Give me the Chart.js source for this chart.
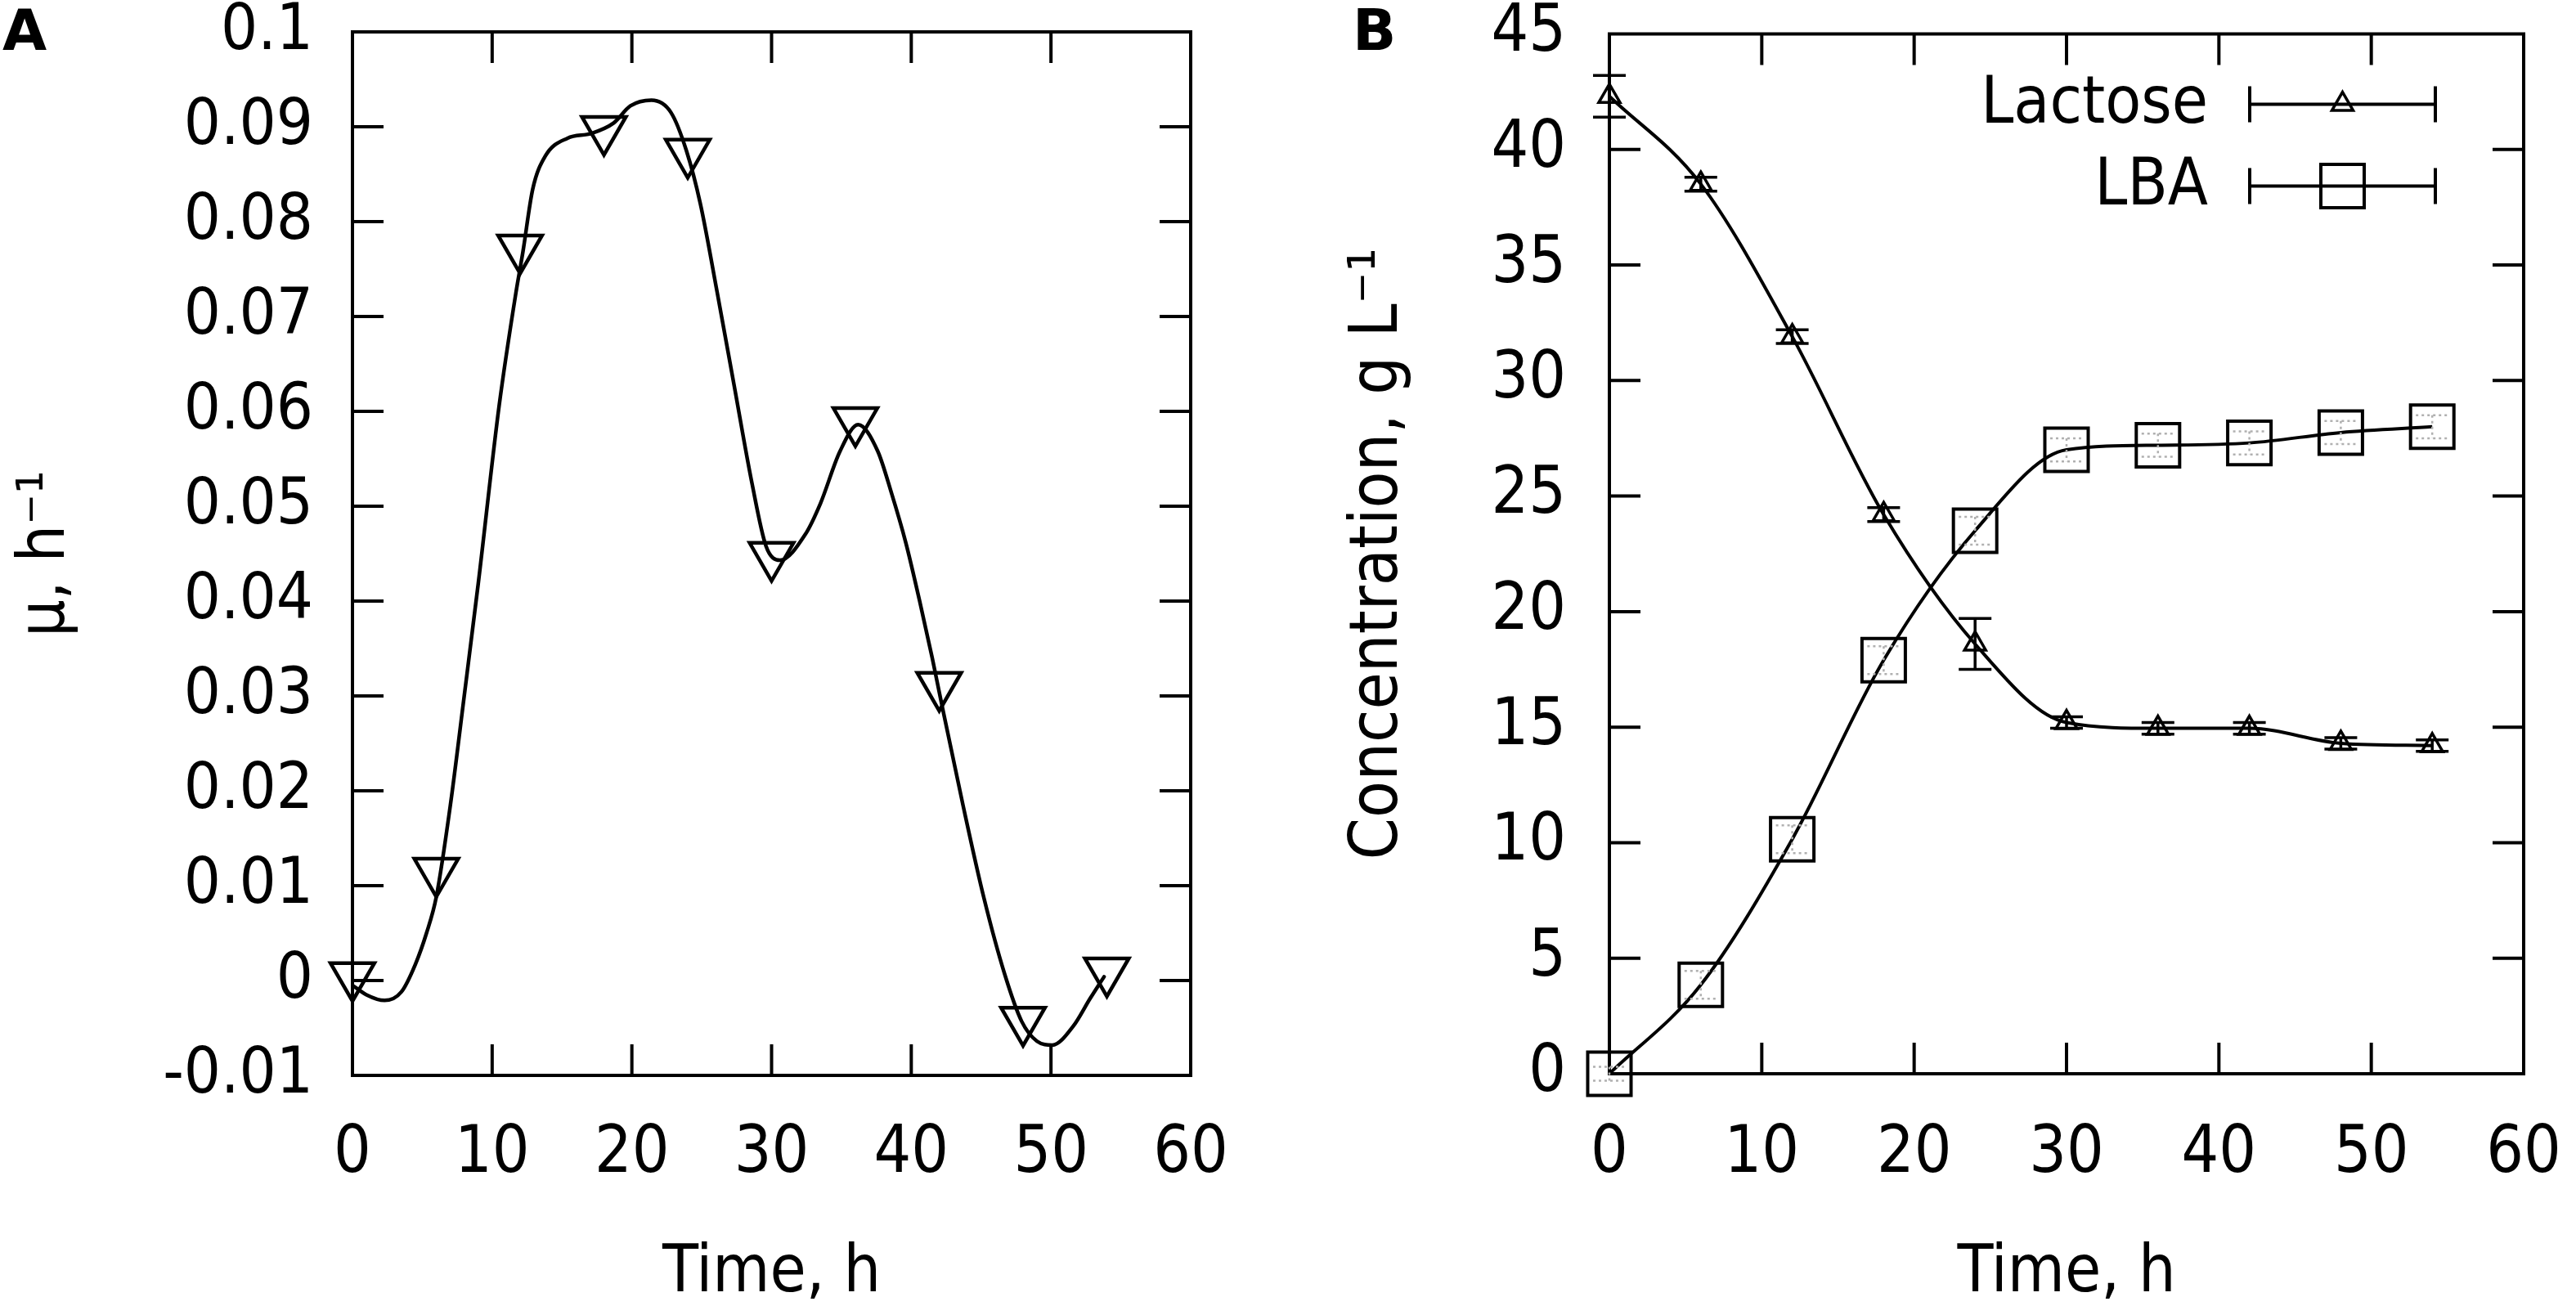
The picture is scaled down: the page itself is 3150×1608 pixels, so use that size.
<!DOCTYPE html>
<html><head><meta charset="utf-8">
<script src="https://cdn.jsdelivr.net/npm/chart.js@4.4.1/dist/chart.umd.min.js"></script>
<style>
html,body{margin:0;padding:0;background:#fff;width:3150px;height:1608px;overflow:hidden;}
.panel{position:absolute;top:0;width:1575px;height:1608px;}
.panel canvas{display:block;}
.letter{position:absolute;top:2px;font-family:"DejaVu Sans",sans-serif;font-weight:bold;font-size:70px;line-height:1;color:#000;}
</style></head><body>
<div class="panel" style="left:0"><canvas id="cA" width="1575" height="1608" style="width:1575px;height:1608px"></canvas></div>
<div class="panel" style="left:1575px"><canvas id="cB" width="1575" height="1608" style="width:1575px;height:1608px"></canvas></div>
<div class="letter" style="left:3px">A</div>
<div class="letter" style="left:1654px">B</div>
<script>
// ---------- Panel A: specific growth rate ----------
const timeA = [0, 6, 12, 18, 24, 30, 36, 42, 48, 54];
const muA   = [0.0005, 0.0115, 0.0772, 0.0897, 0.0873, 0.0448, 0.0590, 0.0311, -0.0042, 0.0010];
// smoothed curve
const fitTimeA = [0, 1, 2.3, 3.5, 4.5, 5.3, 6, 7, 8, 9, 10.5, 11.7, 12.2, 12.9, 13.8, 15.4, 17.1, 18.7, 19.9, 21.4, 22.8, 23.9, 24.9, 26.1, 27.3, 28.6, 29.6, 30.6, 32.4, 33.5, 34.9, 36.2, 37.6, 38.6, 39.6, 40.6, 41.5, 42.1, 43.7, 45.2, 46.7, 47.9, 49, 50.1, 51.6, 52.8, 53.8];
const fitMuA   = [-0.0005, -0.0015, -0.0021, -0.0012, 0.0017, 0.005, 0.0088, 0.0184, 0.030, 0.0418, 0.0606, 0.0725, 0.0768, 0.0834, 0.0869, 0.0888, 0.0893, 0.0904, 0.0922, 0.0928, 0.0915, 0.0875, 0.0819, 0.0726, 0.0629, 0.0524, 0.0458, 0.0443, 0.0470, 0.0503, 0.0558, 0.0586, 0.0558, 0.0513, 0.0462, 0.0400, 0.0340, 0.0297, 0.0185, 0.0087, 0.0006, -0.0043, -0.0064, -0.0068, -0.0048, -0.0019, 0.0004];

// ---------- Panel B: concentrations ----------
const seriesNamesB = ['Lactose', 'LBA'];
const timeB      = [0, 6, 12, 18, 24, 30, 36, 42, 48, 54];
const lactose    = [42.3, 38.5, 31.9, 24.2, 18.6, 15.2, 14.95, 14.95, 14.3, 14.2];
const lactoseErr = [0.9, 0.3, 0.3, 0.3, 1.1, 0.25, 0.25, 0.25, 0.25, 0.25];
const lba        = [0.0, 3.85, 10.15, 17.9, 23.5, 27.0, 27.2, 27.3, 27.75, 28.0];
const lbaErr     = [0.3, 0.6, 0.6, 0.6, 0.6, 0.5, 0.5, 0.5, 0.5, 0.5];

// ---------- ticks ----------
const xTicks       = [0, 10, 20, 30, 40, 50, 60];
const xTickLabels  = ['0', '10', '20', '30', '40', '50', '60'];
const yTicksA      = [-0.01, 0, 0.01, 0.02, 0.03, 0.04, 0.05, 0.06, 0.07, 0.08, 0.09, 0.1];
const yTickLabelsA = ['-0.01', '0', '0.01', '0.02', '0.03', '0.04', '0.05', '0.06', '0.07', '0.08', '0.09', '0.1'];
const yTicksB      = [0, 5, 10, 15, 20, 25, 30, 35, 40, 45];
const yTickLabelsB = ['0', '5', '10', '15', '20', '25', '30', '35', '40', '45'];

const FAMILY = '"DejaVu Sans Condensed", "DejaVu Sans", sans-serif';
const INK = '#000';

const toXY = (xs, ys) => xs.map((x, i) => ({x: x, y: ys[i]}));
const noPad = s => { s.paddingTop = 0; s.paddingBottom = 0; s.paddingLeft = 0; s.paddingRight = 0; };

// frame + inward ticks on all four sides
const framePlugin = {
  id: 'frameTicks',
  beforeDatasetsDraw(chart) {
    const {ctx, chartArea: a, scales} = chart;
    const L = 38;
    ctx.save();
    ctx.strokeStyle = INK;
    ctx.lineWidth = 4;
    ctx.lineCap = 'butt';
    ctx.beginPath();
    scales.x.ticks.forEach(t => {
      if (t.value <= scales.x.min || t.value >= scales.x.max) return;
      const px = scales.x.getPixelForValue(t.value);
      ctx.moveTo(px, a.bottom); ctx.lineTo(px, a.bottom - L);
      ctx.moveTo(px, a.top); ctx.lineTo(px, a.top + L);
    });
    scales.y.ticks.forEach(t => {
      if (t.value <= scales.y.min || t.value >= scales.y.max) return;
      const py = scales.y.getPixelForValue(t.value);
      ctx.moveTo(a.left, py); ctx.lineTo(a.left + L, py);
      ctx.moveTo(a.right, py); ctx.lineTo(a.right - L, py);
    });
    ctx.stroke();
    ctx.lineJoin = 'miter';
    ctx.strokeRect(a.left, a.top, a.right - a.left, a.bottom - a.top);
    ctx.restore();
  }
};

function xScale(height, pad) {
  return {
    type: 'linear', min: 0, max: 60,
    afterBuildTicks: s => { s.ticks = xTicks.map(v => ({value: v})); },
    ticks: {
      callback: (v, i) => xTickLabels[i],
      color: INK, padding: pad, maxRotation: 0, autoSkip: false,
      font: {family: FAMILY, size: 80, lineHeight: 0.9}
    },
    grid: {display: false, drawTicks: false},
    border: {display: false},
    title: {display: true, text: 'Time, h', color: INK,
            font: {family: FAMILY, size: 80, lineHeight: 1.2},
            padding: {top: 0, bottom: 2}},
    afterFit: s => { s.height = height; noPad(s); }
  };
}

// ---------- Chart A ----------
new Chart(document.getElementById('cA'), {
  type: 'scatter',
  data: {
    datasets: [
      {
        label: 'μ',
        data: toXY(timeA, muA),
        pointStyle: 'triangle', rotation: 180, pointRadius: 31,
        pointBorderWidth: 4.5, pointBorderColor: INK,
        pointBackgroundColor: 'rgba(0,0,0,0)', borderColor: INK,
        showLine: false, clip: false
      },
      {
        label: 'fit',
        data: toXY(fitTimeA, fitMuA),
        showLine: true, pointRadius: 0, borderColor: INK, borderWidth: 4.5,
        cubicInterpolationMode: 'monotone', borderJoinStyle: 'round', borderCapStyle: 'round'
      }
    ]
  },
  options: {
    responsive: false, animation: false, devicePixelRatio: 1,
    layout: {padding: {left: 0, top: 39, right: 119, bottom: 0}},
    plugins: {legend: {display: false}, tooltip: {enabled: false}},
    scales: {
      x: xScale(293, 61),
      y: {
        type: 'linear', min: -0.01, max: 0.1,
        afterBuildTicks: s => { s.ticks = yTicksA.map(v => ({value: v})); },
        ticks: {
          callback: (v, i) => yTickLabelsA[i],
          color: INK, padding: 48, autoSkip: false,
          font: {family: FAMILY, size: 79, lineHeight: 0.9}
        },
        grid: {display: false, drawTicks: false},
        border: {display: false},
        title: {display: true, text: 'μ, h⁻¹', color: INK,
                font: {family: FAMILY, size: 80, lineHeight: 1.2},
                padding: {top: 9, bottom: 0}},
        afterFit: s => { s.width = 431; noPad(s); }
      }
    }
  },
  plugins: [framePlugin]
});

// ---------- Chart B ----------
const errorBarPlugin = {
  id: 'errorBars',
  afterDatasetsDraw(chart) {
    const {ctx, scales} = chart;
    const sets = [
      {ys: lactose, es: lactoseErr, color: INK, lw: 3.5, dash: []},
      {ys: lba, es: lbaErr, color: '#b0b0b0', lw: 2.5, dash: [3, 4]}
    ];
    ctx.save();
    sets.forEach(s => {
      ctx.strokeStyle = s.color; ctx.lineWidth = s.lw; ctx.setLineDash(s.dash);
      ctx.beginPath();
      timeB.forEach((t, i) => {
        const px = scales.x.getPixelForValue(t);
        const y1 = scales.y.getPixelForValue(s.ys[i] + s.es[i]);
        const y2 = scales.y.getPixelForValue(s.ys[i] - s.es[i]);
        const hw = 20;
        ctx.moveTo(px, y1); ctx.lineTo(px, y2);
        ctx.moveTo(px - hw, y1); ctx.lineTo(px + hw, y1);
        ctx.moveTo(px - hw, y2); ctx.lineTo(px + hw, y2);
      });
      ctx.stroke();
    });
    ctx.restore();
  }
};

const legendPlugin = {
  id: 'gnuLegend',
  afterDraw(chart) {
    const {ctx, chartArea: a} = chart;
    const styles = [
      {shape: 'triangle', r: 15, lw: 3.5},
      {shape: 'rect', r: 37.5, lw: 4}
    ];
    const x1 = a.right - 108, x0 = x1 - 227, xm = (x0 + x1) / 2;
    ctx.save();
    ctx.fillStyle = INK; ctx.strokeStyle = INK;
    ctx.font = '80px ' + FAMILY;
    ctx.textAlign = 'right'; ctx.textBaseline = 'middle';
    seriesNamesB.forEach((name, i) => {
      const y = a.top + 86 + i * 100;
      ctx.fillText(name, x0 - 51, y + 2);
      ctx.lineWidth = 4;
      ctx.beginPath();
      ctx.moveTo(x0, y); ctx.lineTo(x1, y);
      ctx.moveTo(x0, y - 22); ctx.lineTo(x0, y + 22);
      ctx.moveTo(x1, y - 22); ctx.lineTo(x1, y + 22);
      ctx.stroke();
      const st = styles[i];
      ctx.lineWidth = st.lw;
      ctx.beginPath();
      if (st.shape === 'rect') {
        const h = st.r * Math.SQRT1_2;
        ctx.rect(xm - h, y - h, 2 * h, 2 * h);
      } else {
        const r = st.r;
        ctx.moveTo(xm, y - r);
        ctx.lineTo(xm + r * Math.sin(2 * Math.PI / 3), y - r * Math.cos(2 * Math.PI / 3));
        ctx.lineTo(xm + r * Math.sin(4 * Math.PI / 3), y - r * Math.cos(4 * Math.PI / 3));
        ctx.closePath();
      }
      ctx.stroke();
    });
    ctx.restore();
  }
};

new Chart(document.getElementById('cB'), {
  type: 'scatter',
  data: {
    datasets: [
      {
        label: seriesNamesB[0],
        data: toXY(timeB, lactose),
        showLine: true, borderColor: INK, borderWidth: 4,
        cubicInterpolationMode: 'monotone',
        pointStyle: 'triangle', pointRadius: 15, pointBorderWidth: 3.5,
        pointBorderColor: INK, pointBackgroundColor: 'rgba(0,0,0,0)', clip: false
      },
      {
        label: seriesNamesB[1],
        data: toXY(timeB, lba),
        showLine: true, borderColor: INK, borderWidth: 4,
        cubicInterpolationMode: 'monotone',
        pointStyle: 'rect', pointRadius: 37.5, pointBorderWidth: 4,
        pointBorderColor: INK, pointBackgroundColor: 'rgba(0,0,0,0)', clip: false
      }
    ]
  },
  options: {
    responsive: false, animation: false, devicePixelRatio: 1,
    layout: {padding: {left: 0, top: 38, right: 64, bottom: 0}},
    plugins: {legend: {display: false}, tooltip: {enabled: false}},
    scales: {
      x: xScale(295, 63),
      y: {
        type: 'linear', min: 0, max: 45,
        afterBuildTicks: s => { s.ticks = yTicksB.map(v => ({value: v})); },
        ticks: {
          callback: (v, i) => yTickLabelsB[i],
          color: INK, padding: 53, autoSkip: false,
          font: {family: FAMILY, size: 80, lineHeight: 0.9}
        },
        grid: {display: false, drawTicks: false},
        border: {display: false},
        title: {display: true, text: 'Concentration, g L⁻¹', color: INK,
                font: {family: FAMILY, size: 82, lineHeight: 1.2},
                padding: {top: 63, bottom: 0}},
        afterFit: s => { s.width = 393; noPad(s); }
      }
    }
  },
  plugins: [framePlugin, errorBarPlugin, legendPlugin]
});
</script>
</body></html>
